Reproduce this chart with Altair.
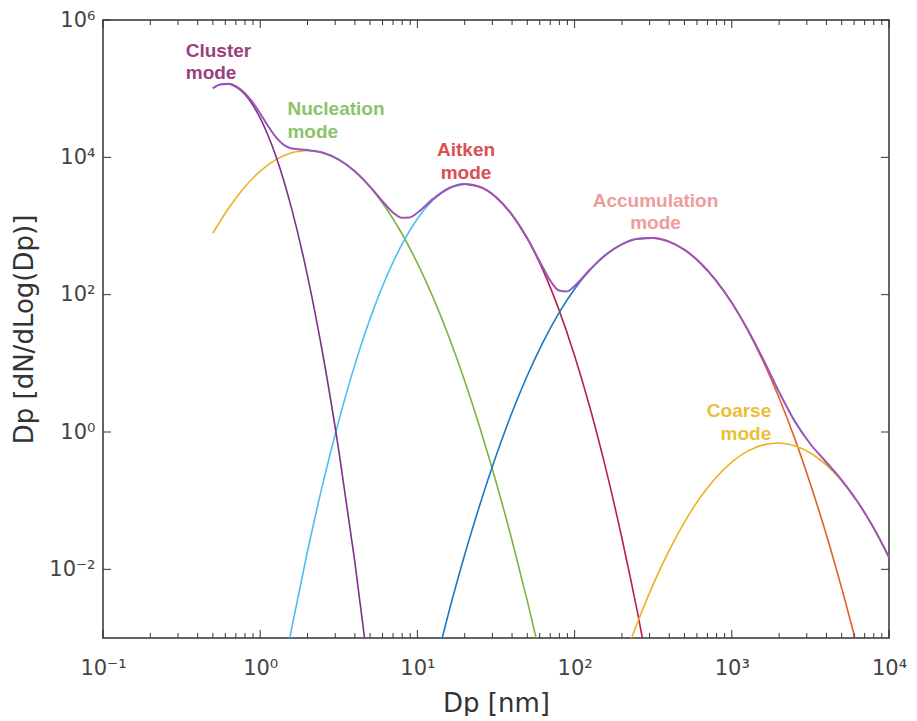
import altair as alt
import pandas as pd

# ---------------- data ----------------
# Cluster mode
cluster_dp = [0.5, 0.562, 0.631, 0.708, 0.794, 0.891, 1.0, 1.122, 1.259, 1.413, 1.585, 1.995, 2.512, 3.162, 3.981, 5.012]
cluster_dn = [1.01e5, 1.15e5, 1.164e5, 1.047e5, 8.35e4, 5.92e4, 3.72e4, 2.08e4, 1.04e4, 4.57e3, 1.79e3, 193, 12.9, 0.537, 0.0139, 2.25e-4]

# Nucleation mode
nuc_dp = [0.5, 0.631, 0.794, 1.0, 1.259, 1.585, 1.995, 2.512, 3.162, 3.981, 5.012, 6.310, 7.943,
          10, 12.59, 15.85, 19.95, 25.12, 31.62, 39.81, 50.12, 63.10]
nuc_dn = [784, 1830, 3660, 6290, 9250, 1.166e4, 1.259e4, 1.166e4, 9250, 6290, 3660, 1830, 784,
          287, 90.4, 24.4, 5.62, 1.11, 0.189, 0.0274, 3.42e-3, 3.65e-4]

# Aitken mode
ait_dp = [1.259, 1.585, 1.995, 2.512, 3.162, 3.981, 5.012, 6.310, 7.943, 10, 12.59, 15.85, 19.95,
          25.12, 31.62, 39.81, 50.12, 63.10, 79.43, 100, 125.9, 158.5, 199.5, 251.2, 316.2]
ait_dn = [8.4e-5, 1.38e-3, 0.0179, 0.183, 1.46, 9.18, 45.3, 175, 533, 1275, 2390, 3520, 4070,
          3690, 2630, 1474, 648, 224, 60.6, 12.9, 2.16, 0.283, 0.0291, 2.36e-3, 1.5e-4]

# Accumulation mode
acc_dp = [12.59, 15.85, 19.95, 25.12, 31.62, 39.81, 50.12, 63.10, 79.43, 100, 125.9, 158.5, 199.5, 251.2,
          316.2, 398.1, 501.2, 631.0, 794.3, 1000, 1259, 1585, 1995, 2512, 3162, 3981, 5012, 6310]
acc_dn = [3.06e-4, 2.39e-3, 0.0160, 0.0912, 0.447, 1.87, 6.70, 20.6, 54.0, 121, 233, 384, 540, 650,
          671, 593, 448, 290, 160, 76.0, 30.8, 10.7, 3.18, 0.807, 0.175, 0.0327, 5.20e-3, 7.10e-4]

# Coarse mode
coarse_dp = [199.5, 251.2, 316.2, 398.1, 501.2, 631.0, 794.3, 1000, 1259, 1585, 1995, 2512, 3162,
             3981, 5012, 6310, 7943, 10000]
coarse_dn = [4.04e-4, 1.68e-3, 6.03e-3, 0.0186, 0.0491, 0.112, 0.218, 0.365, 0.526, 0.650, 0.692, 0.631,
             0.494, 0.333, 0.193, 0.0959, 0.0409, 0.0150]

# Total distribution
total_dp = [0.5, 0.562, 0.631, 0.708, 0.794, 0.891, 1.0, 1.122, 1.259, 1.413, 1.585, 1.995, 2.512, 3.162,
            3.981, 5.012, 6.310, 7.079, 7.943, 8.913, 10, 12.59, 15.85, 19.95, 25.12, 31.62, 39.81,
            50.12, 63.10, 70.79, 79.43, 89.13, 100, 125.9, 158.5, 199.5, 251.2, 316.2, 398.1, 501.2,
            631.0, 794.3, 1000, 1259, 1585, 1995, 2512, 3162, 3981, 5012, 6310, 7943, 10000]
total_dn = [1.02e5, 1.162e5, 1.182e5, 1.073e5, 8.72e4, 6.41e4, 4.35e4, 2.86e4, 1.965e4, 1.516e4, 1.345e4,
            1.278e4, 1.167e4, 9252, 6299, 3705, 2005, 1536, 1317, 1335, 1562, 2480, 3544, 4076, 3691,
            2631, 1476, 655, 245, 154, 115, 111, 134, 235, 384, 540, 650, 671, 593, 448, 290, 160,
            76.4, 31.3, 11.35, 3.87, 1.44, 0.669, 0.366, 0.198, 0.0966, 0.0409, 0.0150]

# Annotation texts
label_text = ["Cluster", "mode", "Nucleation", "mode", "Aitken", "mode", "Accumulation", "mode", "Coarse", "mode"]
label_dp = [0.336, 0.336, 1.49, 1.49, 20.4, 20.4, 327, 327, 1782, 1782]
label_dn = [2.92e5, 1.40e5, 4.12e4, 1.94e4, 1.03e4, 4.83e3, 1.90e3, 894, 1.64, 0.773]
label_color = ["#9A3F80", "#9A3F80", "#8CC26A", "#8CC26A", "#DA4F4F", "#DA4F4F",
               "#EE9C9C", "#EE9C9C", "#EBBE3A", "#EBBE3A"]
label_align = ["left", "left", "left", "left", "center", "center", "center", "center", "right", "right"]

# Axis ticks
x_major = [0.1, 1, 10, 100, 1000, 10000]
y_major = [1e-2, 1, 1e2, 1e4, 1e6]
x_minor = [m * d for d in [0.1, 1, 10, 100, 1000] for m in range(2, 10)]

# ---------------- chart ----------------
W, H = 786, 618
FONT = "DejaVu Sans"

x_axis = alt.Axis(
    values=x_major,
    labelExpr="'10' + ['\u207b\u00b9','\u2070','\u00b9','\u00b2','\u00b3','\u2074'][round(log(datum.value)/LN10)+1]",
    ticks=False, domain=False, grid=False, labelFlush=False, labelOverlap=False,
    labelFont=FONT, labelFontSize=21, labelColor="#444444", labelPadding=30, labelBaseline="middle",
    title="Dp [nm]", titleFont=FONT, titleFontSize=26, titleFontWeight="normal", titleColor="#333333",
    titleX=W / 2, titleY=65, titleBaseline="middle", titleAlign="center",
)
y_axis = alt.Axis(
    values=y_major,
    labelExpr="'10' + ['\u207b\u00b2','\u207b\u00b9','\u2070','\u00b9','\u00b2','\u00b3','\u2074','\u2075','\u2076'][round(log(datum.value)/LN10)+2]",
    ticks=False, domain=False, grid=False, labelOverlap=False,
    labelFont=FONT, labelFontSize=21, labelColor="#444444", labelPadding=8,
    title="Dp [dN/dLog(Dp)]", titleFont=FONT, titleFontSize=26, titleFontWeight="normal",
    titleColor="#333333", titleX=-79, titleY=H / 2, titleBaseline="middle", titleAlign="center",
)

x_enc = alt.X("dp:Q", scale=alt.Scale(type="log", domain=[0.1, 1e4], nice=False), axis=x_axis)
y_enc = alt.Y("dn:Q", scale=alt.Scale(type="log", domain=[1e-3, 1e6], nice=False), axis=y_axis)


def seg(dp, dn, color, width=1.6):
    df = pd.DataFrame({"dp": dp, "dn": dn})
    return alt.Chart(df).mark_line(color=color, strokeWidth=width, clip=True,
                                   interpolate="monotone").encode(x=x_enc, y=y_enc)


def halves(dp, dn, c_left, c_right):
    i = dn.index(max(dn))
    return [seg(dp[:i + 1], dn[:i + 1], c_left), seg(dp[i:], dn[i:], c_right)]


layers = []
layers += halves(nuc_dp, nuc_dn, "#EDB120", "#7CB342")
layers += halves(ait_dp, ait_dn, "#4DBEEE", "#B8204A")
layers += halves(acc_dp, acc_dn, "#1A78C2", "#E0602F")
layers.append(seg(coarse_dp, coarse_dn, "#EDB120"))
layers.append(seg(cluster_dp, cluster_dn, "#7E2F8E"))
layers.append(seg(total_dp, total_dn, "#9B55B8", 2.0))

# inward ticks on all four sides
tick_color = "#333333"
xmaj = alt.Chart(pd.DataFrame({"dp": x_major}))
xmin = alt.Chart(pd.DataFrame({"dp": x_minor}))
ymaj = alt.Chart(pd.DataFrame({"dn": y_major}))
layers += [
    xmaj.mark_rule(color=tick_color, strokeWidth=1).encode(x=x_enc, y=alt.value(H), y2=alt.value(H - 8)),
    xmaj.mark_rule(color=tick_color, strokeWidth=1).encode(x=x_enc, y=alt.value(0), y2=alt.value(8)),
    xmin.mark_rule(color=tick_color, strokeWidth=1).encode(x=x_enc, y=alt.value(H), y2=alt.value(H - 5)),
    xmin.mark_rule(color=tick_color, strokeWidth=1).encode(x=x_enc, y=alt.value(0), y2=alt.value(5)),
    ymaj.mark_rule(color=tick_color, strokeWidth=1).encode(y=y_enc, x=alt.value(0), x2=alt.value(8)),
    ymaj.mark_rule(color=tick_color, strokeWidth=1).encode(y=y_enc, x=alt.value(W), x2=alt.value(W - 8)),
]

labels = pd.DataFrame({"dp": label_dp, "dn": label_dn, "text": label_text,
                       "color": label_color, "align": label_align})
for al in ["left", "center", "right"]:
    layers.append(
        alt.Chart(labels).transform_filter(alt.datum.align == al)
        .mark_text(align=al, baseline="alphabetic", font="Liberation Sans", fontSize=19, fontWeight="bold")
        .encode(x=x_enc, y=y_enc, text="text:N", color=alt.Color("color:N", scale=None))
    )

chart = (
    alt.layer(*layers)
    .properties(width=W, height=H, autosize=alt.AutoSizeParams(type="none"),
                padding={"left": 95, "top": 12, "right": 20, "bottom": 78})
    .configure_view(stroke="#333333", strokeWidth=1.5)
)

chart.save("out.html", embed_options={"renderer": "svg", "actions": False})
